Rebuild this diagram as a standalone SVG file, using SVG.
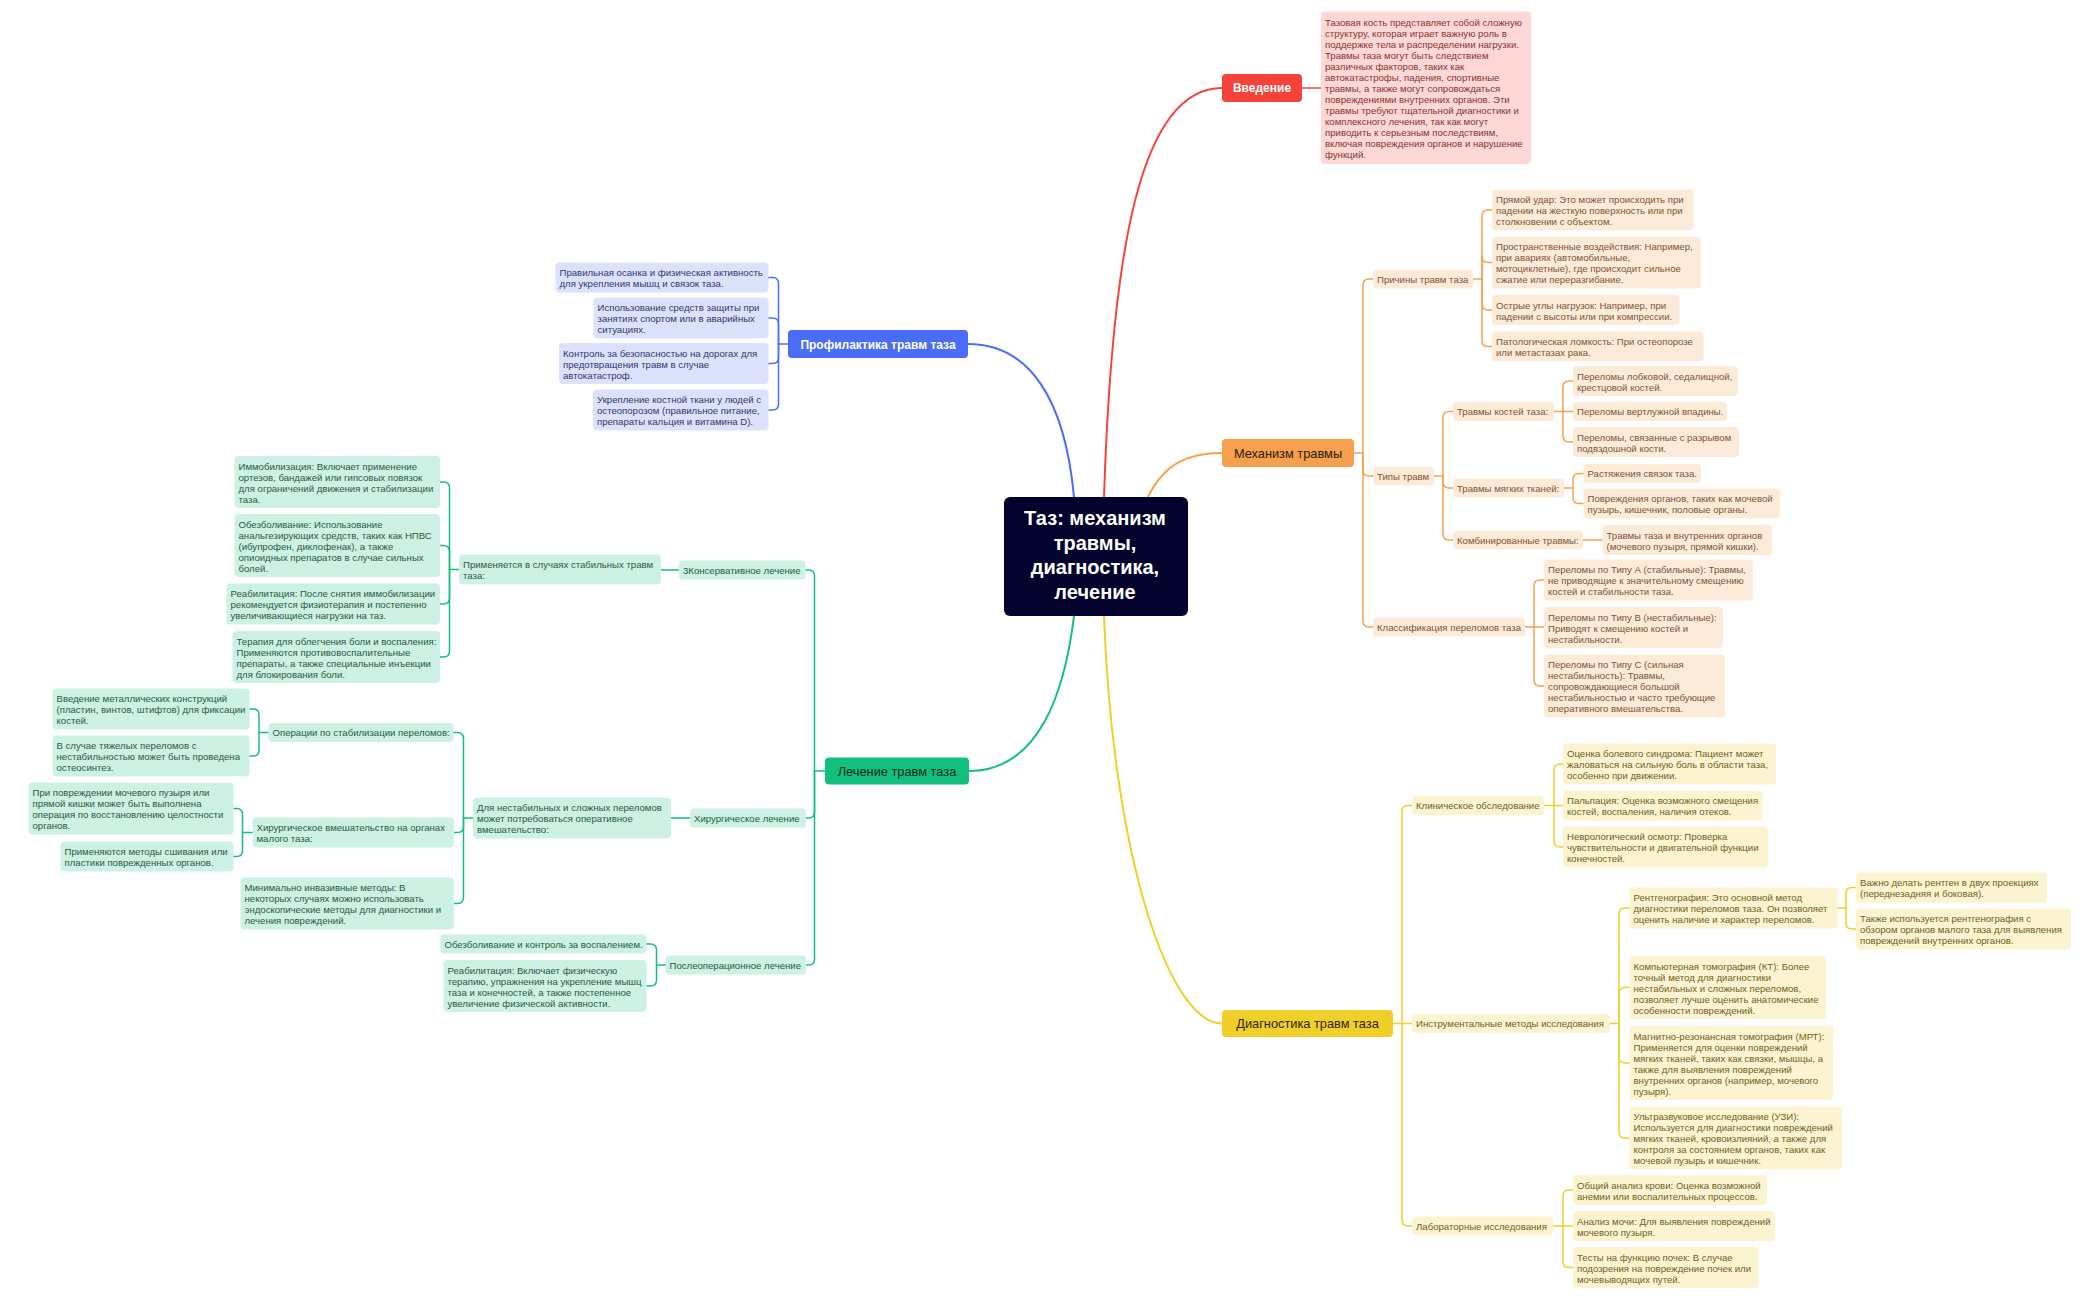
<svg xmlns="http://www.w3.org/2000/svg" width="2099" height="1300" viewBox="0 0 2099 1300">
<style>
text{font-family:"Liberation Sans",Arial,sans-serif}
.t{font-size:9.6px}
.m{font-size:12.8px}
.w{font-size:12px;font-weight:bold;fill:#fff}
.c{fill:none;stroke-width:1.5;stroke-linecap:round;stroke-linejoin:round}
.cm{fill:none;stroke-width:2;stroke-linecap:round}
.r .c,.r .cm{stroke:#f5433b}
.o .c,.o .cm{stroke:#f6a04d}
.y .c,.y .cm{stroke:#f0cf2a}
.b .c,.b .cm{stroke:#4a6cf7}
.g .c,.g .cm{stroke:#12bf7e}
.bo{fill:#fdebda}.to{fill:#7b5433}
.by{fill:#fcf4d0}.ty{fill:#6e5f1f}
.bg{fill:#cdf1e3}.tg{fill:#1f5c45}
.bb{fill:#dde2fc}.tb{fill:#2e3670}
.br{fill:#fdd8d6}.tr{fill:#853430}
</style>
<rect width="2099" height="1300" fill="#fff"/>
<g id="connectors">
 <g class="r">
  <path class="cm" d="M1104 497 C1112 250 1140 88 1222 88"/>
  <path class="c" d="M1302 88 H1321"/>
 </g>
 <g class="o">
  <path class="cm" d="M1148 497 C1165 462 1190 453 1222 453"/>
  <path class="c" d="M1354 453 H1363 V285 Q1363 279 1369 279 H1373"/>
  <path class="c" d="M1363 453 V470 Q1363 476 1369 476 H1373"/>
  <path class="c" d="M1363 453 V621 Q1363 627 1369 627 H1373"/>
  <path class="c" d="M1473 279 H1482 V216 Q1482 210 1488 210 H1492"/>
  <path class="c" d="M1482 279 V256.5 Q1482 262.5 1488 262.5 H1492"/>
  <path class="c" d="M1482 279 V304 Q1482 310 1488 310 H1492"/>
  <path class="c" d="M1482 279 V340.5 Q1482 346.5 1488 346.5 H1492"/>
  <path class="c" d="M1434 476 H1443 V417.5 Q1443 411.5 1449 411.5 H1453"/>
  <path class="c" d="M1443 476 V482 Q1443 488 1449 488 H1453"/>
  <path class="c" d="M1443 476 V534 Q1443 540 1449 540 H1453"/>
  <path class="c" d="M1554 411.5 H1573"/>
  <path class="c" d="M1563 411.5 V387 Q1563 381 1569 381 H1573"/>
  <path class="c" d="M1563 411.5 V436 Q1563 442 1569 442 H1573"/>
  <path class="c" d="M1564 488 H1573 V479.5 Q1573 473.5 1579 473.5 H1583.5"/>
  <path class="c" d="M1573 488 V497.5 Q1573 503.5 1579 503.5 H1583.5"/>
  <path class="c" d="M1583 540 H1602.5"/>
  <path class="c" d="M1525 627 H1544"/>
  <path class="c" d="M1534 627 V586 Q1534 580 1540 580 H1544"/>
  <path class="c" d="M1534 627 V680 Q1534 686 1540 686 H1544"/>
 </g>
 <g class="y">
  <path class="cm" d="M1104 616 C1113 860 1170 1023.5 1222 1023.5"/>
  <path class="c" d="M1393 1023.5 H1412"/>
  <path class="c" d="M1402 1023.5 V811.5 Q1402 805.5 1408 805.5 H1412"/>
  <path class="c" d="M1402 1023.5 V1220 Q1402 1226 1408 1226 H1412"/>
  <path class="c" d="M1544 805.5 H1563"/>
  <path class="c" d="M1554 805.5 V770 Q1554 764 1560 764 H1563"/>
  <path class="c" d="M1554 805.5 V841 Q1554 847 1560 847 H1563"/>
  <path class="c" d="M1610 1023.5 H1619 V914 Q1619 908 1625 908 H1629.5"/>
  <path class="c" d="M1619 1023.5 V993.5 Q1619 987.5 1625 987.5 H1629.5"/>
  <path class="c" d="M1619 1023.5 V1057 Q1619 1063 1625 1063 H1629.5"/>
  <path class="c" d="M1619 1023.5 V1132 Q1619 1138 1625 1138 H1629.5"/>
  <path class="c" d="M1837.5 908 H1846 V893.5 Q1846 887.5 1852 887.5 H1856"/>
  <path class="c" d="M1846 908 V923 Q1846 929 1852 929 H1856"/>
  <path class="c" d="M1553 1226 H1573"/>
  <path class="c" d="M1563 1226 V1196 Q1563 1190 1569 1190 H1573"/>
  <path class="c" d="M1563 1226 V1261.5 Q1563 1267.5 1569 1267.5 H1573"/>
 </g>
 <g class="b">
  <path class="cm" d="M968 344 C1030 344 1065 400 1074 497"/>
  <path class="c" d="M788 344 H778.5 V283.5 Q778.5 277.5 772.5 277.5 H768.5"/>
  <path class="c" d="M778.5 344 V324 Q778.5 318 772.5 318 H768.5"/>
  <path class="c" d="M778.5 344 V357.5 Q778.5 363.5 772.5 363.5 H768.5"/>
  <path class="c" d="M778.5 344 V404 Q778.5 410 772.5 410 H768.5"/>
 </g>
 <g class="g">
  <path class="cm" d="M969 771 C1040 771 1065 690 1074 616"/>
  <path class="c" d="M825 771 H814.5 V576 Q814.5 570 808.5 570 H805.5"/>
  <path class="c" d="M814.5 771 V812 Q814.5 818 808.5 818 H806"/>
  <path class="c" d="M814.5 771 V959 Q814.5 965 808.5 965 H806"/>
  <path class="c" d="M679 570 H661"/>
  <path class="c" d="M459 569.5 H449.5 V488 Q449.5 482 443.5 482 H440"/>
  <path class="c" d="M449.5 569.5 V551.5 Q449.5 545.5 443.5 545.5 H440"/>
  <path class="c" d="M449.5 569.5 V598 Q449.5 604 443.5 604 H440"/>
  <path class="c" d="M449.5 569.5 V651 Q449.5 657 443.5 657 H440"/>
  <path class="c" d="M690 818 H671"/>
  <path class="c" d="M473 818 H463.5 V738.5 Q463.5 732.5 457.5 732.5 H453.5"/>
  <path class="c" d="M463.5 818 V826.5 Q463.5 832.5 457.5 832.5 H454"/>
  <path class="c" d="M463.5 818 V897.5 Q463.5 903.5 457.5 903.5 H454"/>
  <path class="c" d="M268.5 732.5 H259 V715 Q259 709 253 709 H249.5"/>
  <path class="c" d="M259 732.5 V750 Q259 756 253 756 H249.5"/>
  <path class="c" d="M252.5 832.5 H242.5 V814.5 Q242.5 808.5 236.5 808.5 H233.5"/>
  <path class="c" d="M242.5 832.5 V850.5 Q242.5 856.5 236.5 856.5 H233.5"/>
  <path class="c" d="M665.5 965 H656.5 V950 Q656.5 944 650.5 944 H646.5"/>
  <path class="c" d="M656.5 965 V980 Q656.5 986 650.5 986 H646.5"/>
 </g>
</g>

<g id="root"><rect x="1004" y="497" width="184" height="119" rx="6" fill="#03032d"/>
<text font-size="20" font-weight="bold" fill="#fff" text-anchor="middle"><tspan x="1095" y="525">Таз: механизм</tspan><tspan x="1095" y="549.5">травмы,</tspan><tspan x="1095" y="574">диагностика,</tspan><tspan x="1095" y="598.5">лечение</tspan></text></g>

<g id="intro"><rect x="1222" y="74" width="80" height="28" rx="4" fill="#f5433b"/><text class="w" x="1262" y="92" text-anchor="middle">Введение</text></g>
<g id="intro-text"><rect class="br" x="1321" y="11.5" width="210" height="152.5" rx="4"/>
<text class="t tr"><tspan x="1325" y="25.5">Тазовая кость представляет собой сложную</tspan><tspan x="1325" y="36.5">структуру, которая играет важную роль в</tspan><tspan x="1325" y="47.5">поддержке тела и распределении нагрузки.</tspan><tspan x="1325" y="58.5">Травмы таза могут быть следствием</tspan><tspan x="1325" y="69.5">различных факторов, таких как</tspan><tspan x="1325" y="80.5">автокатастрофы, падения, спортивные</tspan><tspan x="1325" y="91.5">травмы, а также могут сопровождаться</tspan><tspan x="1325" y="102.5">повреждениями внутренних органов. Эти</tspan><tspan x="1325" y="113.5">травмы требуют тщательной диагностики и</tspan><tspan x="1325" y="124.5">комплексного лечения, так как могут</tspan><tspan x="1325" y="135.5">приводить к серьезным последствиям,</tspan><tspan x="1325" y="146.5">включая повреждения органов и нарушение</tspan><tspan x="1325" y="157.5">функций.</tspan></text></g>

<g id="mechanism"><rect x="1222" y="439" width="132" height="28" rx="4" fill="#f6a04d"/><text class="m" x="1288" y="457.5" text-anchor="middle" fill="#2a1a0a">Механизм травмы</text></g>
<g id="causes"><rect class="bo" x="1373" y="269.5" width="100" height="19" rx="4"/><text class="t to" x="1377" y="282.5">Причины травм таза</text></g>
<g id="cause-1"><rect class="bo" x="1492" y="189.5" width="201.5" height="41" rx="4"/><text class="t to"><tspan x="1496" y="203.3">Прямой удар: Это может происходить при</tspan><tspan x="1496" y="214.3">падении на жесткую поверхность или при</tspan><tspan x="1496" y="225.3">столкновении с объектом.</tspan></text></g>
<g id="cause-2"><rect class="bo" x="1492" y="236.5" width="209" height="52" rx="4"/><text class="t to"><tspan x="1496" y="250.3">Пространственные воздействия: Например,</tspan><tspan x="1496" y="261.3">при авариях (автомобильные,</tspan><tspan x="1496" y="272.3">мотоциклетные), где происходит сильное</tspan><tspan x="1496" y="283.3">сжатие или переразгибание.</tspan></text></g>
<g id="cause-3"><rect class="bo" x="1492" y="295" width="187.5" height="30" rx="4"/><text class="t to"><tspan x="1496" y="308.8">Острые углы нагрузок: Например, при</tspan><tspan x="1496" y="319.8">падении с высоты или при компрессии.</tspan></text></g>
<g id="cause-4"><rect class="bo" x="1492" y="331.5" width="211.5" height="30" rx="4"/><text class="t to"><tspan x="1496" y="345.3">Патологическая ломкость: При остеопорозе</tspan><tspan x="1496" y="356.3">или метастазах рака.</tspan></text></g>
<g id="types"><rect class="bo" x="1373" y="466.5" width="61" height="19" rx="4"/><text class="t to" x="1377" y="479.5">Типы травм</text></g>
<g id="bone"><rect class="bo" x="1453" y="402" width="101" height="19" rx="4"/><text class="t to" x="1457" y="415">Травмы костей таза:</text></g>
<g id="bone-1"><rect class="bo" x="1573" y="366" width="165" height="30" rx="4"/><text class="t to"><tspan x="1577" y="379.8">Переломы лобковой, седалищной,</tspan><tspan x="1577" y="390.8">крестцовой костей.</tspan></text></g>
<g id="bone-2"><rect class="bo" x="1573" y="402" width="154" height="19" rx="4"/><text class="t to" x="1577" y="415">Переломы вертлужной впадины.</text></g>
<g id="bone-3"><rect class="bo" x="1573" y="427" width="166" height="30" rx="4"/><text class="t to"><tspan x="1577" y="440.8">Переломы, связанные с разрывом</tspan><tspan x="1577" y="451.8">подвздошной кости.</tspan></text></g>
<g id="soft"><rect class="bo" x="1453" y="478.5" width="111" height="19" rx="4"/><text class="t to" x="1457" y="491.5">Травмы мягких тканей:</text></g>
<g id="soft-1"><rect class="bo" x="1583.5" y="464" width="117.5" height="19" rx="4"/><text class="t to" x="1587.5" y="477">Растяжения связок таза.</text></g>
<g id="soft-2"><rect class="bo" x="1583.5" y="488.5" width="196.5" height="30" rx="4"/><text class="t to"><tspan x="1587.5" y="502.3">Повреждения органов, таких как мочевой</tspan><tspan x="1587.5" y="513.3">пузырь, кишечник, половые органы.</tspan></text></g>
<g id="combined"><rect class="bo" x="1453" y="530.5" width="130" height="19" rx="4"/><text class="t to" x="1457" y="543.5">Комбинированные травмы:</text></g>
<g id="combined-1"><rect class="bo" x="1602.5" y="525" width="169.5" height="30" rx="4"/><text class="t to"><tspan x="1606.5" y="538.8">Травмы таза и внутренних органов</tspan><tspan x="1606.5" y="549.8">(мочевого пузыря, прямой кишки).</tspan></text></g>
<g id="classification"><rect class="bo" x="1373" y="617.5" width="152" height="19" rx="4"/><text class="t to" x="1377" y="630.5">Классификация переломов таза</text></g>
<g id="type-a"><rect class="bo" x="1544" y="559.5" width="209" height="41" rx="4"/><text class="t to"><tspan x="1548" y="573.3">Переломы по Типу А (стабильные): Травмы,</tspan><tspan x="1548" y="584.3">не приводящие к значительному смещению</tspan><tspan x="1548" y="595.3">костей и стабильности таза.</tspan></text></g>
<g id="type-b"><rect class="bo" x="1544" y="607" width="179" height="41" rx="4"/><text class="t to"><tspan x="1548" y="620.8">Переломы по Типу В (нестабильные):</tspan><tspan x="1548" y="631.8">Приводят к смещению костей и</tspan><tspan x="1548" y="642.8">нестабильности.</tspan></text></g>
<g id="type-c"><rect class="bo" x="1544" y="654.5" width="181" height="63" rx="4"/><text class="t to"><tspan x="1548" y="668.3">Переломы по Типу С (сильная</tspan><tspan x="1548" y="679.3">нестабильность): Травмы,</tspan><tspan x="1548" y="690.3">сопровождающиеся большой</tspan><tspan x="1548" y="701.3">нестабильностью и часто требующие</tspan><tspan x="1548" y="712.3">оперативного вмешательства.</tspan></text></g>

<g id="diagnostics"><rect x="1222" y="1010" width="171" height="27" rx="4" fill="#f0cf2a"/><text class="m" x="1307.5" y="1028" text-anchor="middle" fill="#2b2500">Диагностика травм таза</text></g>
<g id="clinical"><rect class="by" x="1412" y="796" width="132" height="19" rx="4"/><text class="t ty" x="1416" y="809">Клиническое обследование</text></g>
<g id="clinical-1"><rect class="by" x="1563" y="743.5" width="213" height="41" rx="4"/><text class="t ty"><tspan x="1567" y="757.3">Оценка болевого синдрома: Пациент может</tspan><tspan x="1567" y="768.3">жаловаться на сильную боль в области таза,</tspan><tspan x="1567" y="779.3">особенно при движении.</tspan></text></g>
<g id="clinical-2"><rect class="by" x="1563" y="790.5" width="199.5" height="30" rx="4"/><text class="t ty"><tspan x="1567" y="804.3">Пальпация: Оценка возможного смещения</tspan><tspan x="1567" y="815.3">костей, воспаления, наличия отеков.</tspan></text></g>
<g id="clinical-3"><rect class="by" x="1563" y="826.5" width="205" height="41" rx="4"/><text class="t ty"><tspan x="1567" y="840.3">Неврологический осмотр: Проверка</tspan><tspan x="1567" y="851.3">чувствительности и двигательной функции</tspan><tspan x="1567" y="862.3">конечностей.</tspan></text></g>
<g id="instrumental"><rect class="by" x="1412" y="1014" width="198" height="19" rx="4"/><text class="t ty" x="1416" y="1027">Инструментальные методы исследования</text></g>
<g id="xray"><rect class="by" x="1629.5" y="887.5" width="208" height="41" rx="4"/><text class="t ty"><tspan x="1633.5" y="901.3">Рентгенография: Это основной метод</tspan><tspan x="1633.5" y="912.3">диагностики переломов таза. Он позволяет</tspan><tspan x="1633.5" y="923.3">оценить наличие и характер переломов.</tspan></text></g>
<g id="xray-1"><rect class="by" x="1856" y="872.5" width="191" height="30" rx="4"/><text class="t ty"><tspan x="1860" y="886.3">Важно делать рентген в двух проекциях</tspan><tspan x="1860" y="897.3">(переднезадняя и боковая).</tspan></text></g>
<g id="xray-2"><rect class="by" x="1856" y="908.5" width="215" height="41" rx="4"/><text class="t ty"><tspan x="1860" y="922.3">Также используется рентгенография с</tspan><tspan x="1860" y="933.3">обзором органов малого таза для выявления</tspan><tspan x="1860" y="944.3">повреждений внутренних органов.</tspan></text></g>
<g id="ct"><rect class="by" x="1629.5" y="956" width="196.5" height="63" rx="4"/><text class="t ty"><tspan x="1633.5" y="969.8">Компьютерная томография (КТ): Более</tspan><tspan x="1633.5" y="980.8">точный метод для диагностики</tspan><tspan x="1633.5" y="991.8">нестабильных и сложных переломов,</tspan><tspan x="1633.5" y="1002.8">позволяет лучше оценить анатомические</tspan><tspan x="1633.5" y="1013.8">особенности повреждений.</tspan></text></g>
<g id="mri"><rect class="by" x="1629.5" y="1026" width="203.5" height="74" rx="4"/><text class="t ty"><tspan x="1633.5" y="1039.8">Магнитно-резонансная томография (МРТ):</tspan><tspan x="1633.5" y="1050.8">Применяется для оценки повреждений</tspan><tspan x="1633.5" y="1061.8">мягких тканей, таких как связки, мышцы, а</tspan><tspan x="1633.5" y="1072.8">также для выявления повреждений</tspan><tspan x="1633.5" y="1083.8">внутренних органов (например, мочевого</tspan><tspan x="1633.5" y="1094.8">пузыря).</tspan></text></g>
<g id="us"><rect class="by" x="1629.5" y="1106.5" width="212.5" height="63" rx="4"/><text class="t ty"><tspan x="1633.5" y="1120.3">Ультразвуковое исследование (УЗИ):</tspan><tspan x="1633.5" y="1131.3">Используется для диагностики повреждений</tspan><tspan x="1633.5" y="1142.3">мягких тканей, кровоизлияний, а также для</tspan><tspan x="1633.5" y="1153.3">контроля за состоянием органов, таких как</tspan><tspan x="1633.5" y="1164.3">мочевой пузырь и кишечник.</tspan></text></g>
<g id="lab"><rect class="by" x="1412" y="1216.5" width="141" height="19" rx="4"/><text class="t ty" x="1416" y="1229.5">Лабораторные исследования</text></g>
<g id="lab-1"><rect class="by" x="1573" y="1175" width="194" height="30" rx="4"/><text class="t ty"><tspan x="1577" y="1188.8">Общий анализ крови: Оценка возможной</tspan><tspan x="1577" y="1199.8">анемии или воспалительных процессов.</tspan></text></g>
<g id="lab-2"><rect class="by" x="1573" y="1211" width="202" height="30" rx="4"/><text class="t ty"><tspan x="1577" y="1224.8">Анализ мочи: Для выявления повреждений</tspan><tspan x="1577" y="1235.8">мочевого пузыря.</tspan></text></g>
<g id="lab-3"><rect class="by" x="1573" y="1247" width="185.5" height="41" rx="4"/><text class="t ty"><tspan x="1577" y="1260.8">Тесты на функцию почек: В случае</tspan><tspan x="1577" y="1271.8">подозрения на повреждение почек или</tspan><tspan x="1577" y="1282.8">мочевыводящих путей.</tspan></text></g>

<g id="prevention"><rect x="788" y="330" width="180" height="28" rx="4" fill="#4a6cf7"/><text class="w" x="878" y="348.5" text-anchor="middle">Профилактика травм таза</text></g>
<g id="prev-1"><rect class="bb" x="555.5" y="262.5" width="213" height="30" rx="4"/><text class="t tb"><tspan x="559.5" y="276.3">Правильная осанка и физическая активность</tspan><tspan x="559.5" y="287.3">для укрепления мышц и связок таза.</tspan></text></g>
<g id="prev-2"><rect class="bb" x="593.5" y="297.5" width="175" height="41" rx="4"/><text class="t tb"><tspan x="597.5" y="311.3">Использование средств защиты при</tspan><tspan x="597.5" y="322.3">занятиях спортом или в аварийных</tspan><tspan x="597.5" y="333.3">ситуациях.</tspan></text></g>
<g id="prev-3"><rect class="bb" x="559" y="343" width="209.5" height="41" rx="4"/><text class="t tb"><tspan x="563" y="356.8">Контроль за безопасностью на дорогах для</tspan><tspan x="563" y="367.8">предотвращения травм в случае</tspan><tspan x="563" y="378.8">автокатастроф.</tspan></text></g>
<g id="prev-4"><rect class="bb" x="593" y="389.5" width="175.5" height="41" rx="4"/><text class="t tb"><tspan x="597" y="403.3">Укрепление костной ткани у людей с</tspan><tspan x="597" y="414.3">остеопорозом (правильное питание,</tspan><tspan x="597" y="425.3">препараты кальция и витамина D).</tspan></text></g>

<g id="treatment"><rect x="825" y="757.5" width="144" height="27" rx="4" fill="#12bf7e"/><text class="m" x="897" y="775.5" text-anchor="middle" fill="#08291b">Лечение травм таза</text></g>
<g id="conservative"><rect class="bg" x="679" y="560.5" width="126.5" height="19" rx="4"/><text class="t tg" x="683" y="573.5">3Консервативное лечение</text></g>
<g id="stable"><rect class="bg" x="459" y="554.5" width="202" height="30" rx="4"/><text class="t tg"><tspan x="463" y="568.3">Применяется в случаях стабильных травм</tspan><tspan x="463" y="579.3">таза:</tspan></text></g>
<g id="cons-1"><rect class="bg" x="234.5" y="456" width="205.5" height="52" rx="4"/><text class="t tg"><tspan x="238.5" y="469.8">Иммобилизация: Включает применение</tspan><tspan x="238.5" y="480.8">ортезов, бандажей или гипсовых повязок</tspan><tspan x="238.5" y="491.8">для ограничений движения и стабилизации</tspan><tspan x="238.5" y="502.8">таза.</tspan></text></g>
<g id="cons-2"><rect class="bg" x="234.5" y="514" width="205.5" height="63" rx="4"/><text class="t tg"><tspan x="238.5" y="527.8">Обезболивание: Использование</tspan><tspan x="238.5" y="538.8">анальгезирующих средств, таких как НПВС</tspan><tspan x="238.5" y="549.8">(ибупрофен, диклофенак), а также</tspan><tspan x="238.5" y="560.8">опиоидных препаратов в случае сильных</tspan><tspan x="238.5" y="571.8">болей.</tspan></text></g>
<g id="cons-3"><rect class="bg" x="226.5" y="583.5" width="213.5" height="41" rx="4"/><text class="t tg"><tspan x="230.5" y="597.3">Реабилитация: После снятия иммобилизации</tspan><tspan x="230.5" y="608.3">рекомендуется физиотерапия и постепенно</tspan><tspan x="230.5" y="619.3">увеличивающиеся нагрузки на таз.</tspan></text></g>
<g id="cons-4"><rect class="bg" x="232.5" y="631" width="207.5" height="52" rx="4"/><text class="t tg"><tspan x="236.5" y="644.8">Терапия для облегчения боли и воспаления:</tspan><tspan x="236.5" y="655.8">Применяются противовоспалительные</tspan><tspan x="236.5" y="666.8">препараты, а также специальные инъекции</tspan><tspan x="236.5" y="677.8">для блокирования боли.</tspan></text></g>
<g id="surgical"><rect class="bg" x="690" y="808.5" width="116" height="19" rx="4"/><text class="t tg" x="694" y="821.5">Хирургическое лечение</text></g>
<g id="unstable"><rect class="bg" x="473" y="797.5" width="198" height="41" rx="4"/><text class="t tg"><tspan x="477" y="811.3">Для нестабильных и сложных переломов</tspan><tspan x="477" y="822.3">может потребоваться оперативное</tspan><tspan x="477" y="833.3">вмешательство:</tspan></text></g>
<g id="stabilization"><rect class="bg" x="268.5" y="723" width="185" height="19" rx="4"/><text class="t tg" x="272.5" y="736">Операции по стабилизации переломов:</text></g>
<g id="stab-1"><rect class="bg" x="52.5" y="688.5" width="197" height="41" rx="4"/><text class="t tg"><tspan x="56.5" y="702.3">Введение металлических конструкций</tspan><tspan x="56.5" y="713.3">(пластин, винтов, штифтов) для фиксации</tspan><tspan x="56.5" y="724.3">костей.</tspan></text></g>
<g id="stab-2"><rect class="bg" x="52.5" y="735.5" width="197" height="41" rx="4"/><text class="t tg"><tspan x="56.5" y="749.3">В случае тяжелых переломов с</tspan><tspan x="56.5" y="760.3">нестабильностью может быть проведена</tspan><tspan x="56.5" y="771.3">остеосинтез.</tspan></text></g>
<g id="organs"><rect class="bg" x="252.5" y="817.5" width="201.5" height="30" rx="4"/><text class="t tg"><tspan x="256.5" y="831.3">Хирургическое вмешательство на органах</tspan><tspan x="256.5" y="842.3">малого таза:</tspan></text></g>
<g id="organs-1"><rect class="bg" x="28.5" y="782.5" width="205" height="52" rx="4"/><text class="t tg"><tspan x="32.5" y="796.3">При повреждении мочевого пузыря или</tspan><tspan x="32.5" y="807.3">прямой кишки может быть выполнена</tspan><tspan x="32.5" y="818.3">операция по восстановлению целостности</tspan><tspan x="32.5" y="829.3">органов.</tspan></text></g>
<g id="organs-2"><rect class="bg" x="60.5" y="841.5" width="173" height="30" rx="4"/><text class="t tg"><tspan x="64.5" y="855.3">Применяются методы сшивания или</tspan><tspan x="64.5" y="866.3">пластики поврежденных органов.</tspan></text></g>
<g id="minimal"><rect class="bg" x="240.5" y="877.5" width="213.5" height="52" rx="4"/><text class="t tg"><tspan x="244.5" y="891.3">Минимально инвазивные методы: В</tspan><tspan x="244.5" y="902.3">некоторых случаях можно использовать</tspan><tspan x="244.5" y="913.3">эндоскопические методы для диагностики и</tspan><tspan x="244.5" y="924.3">лечения повреждений.</tspan></text></g>
<g id="postop"><rect class="bg" x="665.5" y="955.5" width="140.5" height="19" rx="4"/><text class="t tg" x="669.5" y="968.5">Послеоперационное лечение</text></g>
<g id="postop-1"><rect class="bg" x="440.5" y="934.5" width="206" height="19" rx="4"/><text class="t tg" x="444.5" y="947.5">Обезболивание и контроль за воспалением.</text></g>
<g id="postop-2"><rect class="bg" x="443.5" y="960" width="203" height="52" rx="4"/><text class="t tg"><tspan x="447.5" y="973.8">Реабилитация: Включает физическую</tspan><tspan x="447.5" y="984.8">терапию, упражнения на укрепление мышц</tspan><tspan x="447.5" y="995.8">таза и конечностей, а также постепенное</tspan><tspan x="447.5" y="1006.8">увеличение физической активности.</tspan></text></g>
</svg>
